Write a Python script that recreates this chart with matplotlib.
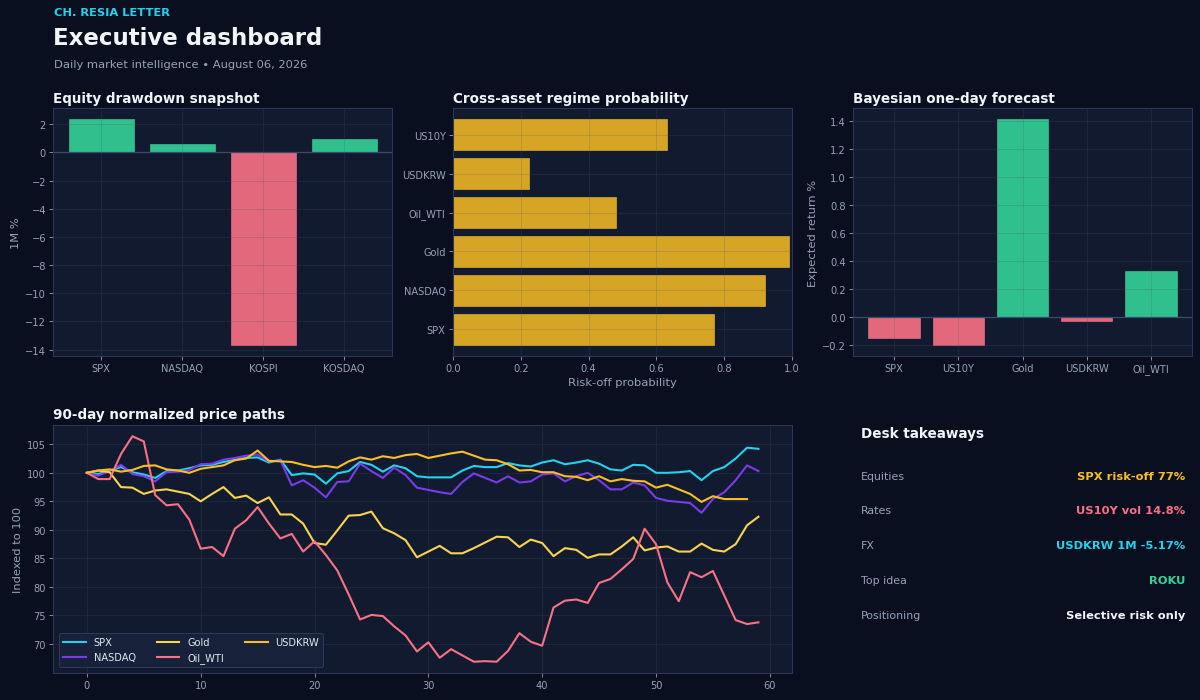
import matplotlib
matplotlib.use("Agg")
import matplotlib.pyplot as plt
import numpy as np

# ---------------- data ----------------
dd_assets = ["SPX", "NASDAQ", "KOSPI", "KOSDAQ"]
dd_values = [2.35, 0.60, -13.65, 0.95]

regime_assets = ["SPX", "NASDAQ", "Gold", "Oil_WTI", "USDKRW", "US10Y"]
regime_probs = [0.77, 0.92, 0.99, 0.48, 0.225, 0.63]

fc_assets = ["SPX", "US10Y", "Gold", "USDKRW", "Oil_WTI"]
fc_values = [-0.15, -0.195, 1.415, -0.022, 0.33]

spx = [100.0, 99.8, 100.4, 101.0, 100.1, 99.7, 99.1, 100.3, 100.4, 100.8,
       101.3, 101.4, 101.9, 102.3, 102.6, 102.7, 101.8, 102.3, 99.6, 99.9,
       99.7, 98.1, 99.9, 100.3, 101.9, 101.4, 100.2, 101.3, 100.8, 99.4,
       99.2, 99.2, 99.2, 100.4, 101.2, 101.0, 101.0, 101.7, 101.3, 101.1,
       101.8, 102.2, 101.5, 101.8, 102.2, 101.6, 100.6, 100.4, 101.4, 101.3,
       100.0, 100.0, 100.1, 100.3, 98.7, 100.3, 101.0, 102.5, 104.4, 104.2]
nasdaq = [100.0, 99.5, 100.3, 101.4, 99.8, 99.4, 98.5, 100.1, 100.2, 100.5,
          101.5, 101.6, 102.3, 102.6, 103.0, 103.2, 102.0, 102.2, 97.8, 98.7,
          97.4, 95.7, 98.4, 98.5, 101.6, 100.3, 99.1, 100.9, 99.6, 97.4,
          97.0, 96.6, 96.3, 98.4, 99.9, 99.1, 98.3, 99.4, 98.3, 98.5,
          99.7, 99.9, 98.5, 99.4, 100.0, 98.7, 97.1, 97.1, 98.3, 97.8,
          95.6, 95.1, 94.9, 94.7, 93.0, 95.4, 96.6, 98.7, 101.3, 100.3]
gold = [100.0, 100.4, 100.1, 97.5, 97.4, 96.3, 96.9, 97.1, 96.7, 96.3,
        95.0, 96.3, 97.5, 95.6, 96.0, 94.7, 95.7, 92.7, 92.7, 91.1,
        87.7, 87.4, 89.9, 92.5, 92.6, 93.2, 90.3, 89.4, 88.2, 85.2,
        86.2, 87.2, 85.9, 85.9, 86.8, 87.8, 88.8, 88.7, 87.0, 88.3,
        87.7, 85.4, 86.8, 86.5, 85.1, 85.7, 85.7, 87.1, 88.7, 86.4,
        86.9, 87.1, 86.2, 86.2, 87.6, 86.5, 86.2, 87.5, 90.8, 92.3]
oil = [100.0, 98.9, 98.9, 103.3, 106.4, 105.5, 96.1, 94.3, 94.5, 91.8,
       86.7, 87.0, 85.4, 90.2, 91.7, 94.0, 91.1, 88.5, 89.3, 86.2,
       88.0, 85.6, 82.9, 78.7, 74.3, 75.1, 74.9, 73.1, 71.5, 68.7,
       70.3, 67.6, 69.1, 68.0, 66.9, 67.0, 66.9, 68.8, 71.9, 70.4,
       69.7, 76.4, 77.6, 77.8, 77.2, 80.7, 81.4, 83.1, 84.9, 90.2,
       87.5, 80.8, 77.5, 82.6, 81.7, 82.8, 78.5, 74.2, 73.5, 73.8]
usdkrw = [100.0, 100.4, 100.6, 100.2, 100.5, 101.2, 101.3, 100.6, 100.4, 100.0,
          100.7, 101.0, 101.3, 102.2, 102.5, 103.9, 102.1, 102.0, 101.9, 101.4,
          101.0, 101.2, 100.9, 102.0, 102.7, 102.3, 102.9, 102.6, 103.1, 103.3,
          102.6, 103.0, 103.4, 103.7, 103.0, 102.3, 102.2, 101.5, 100.4, 100.5,
          100.1, 100.1, 99.4, 99.3, 98.7, 99.4, 98.5, 98.9, 98.6, 98.5,
          97.4, 97.9, 97.1, 96.3, 94.9, 95.9, 95.4, 95.4, 95.4]

series_names = ["SPX", "NASDAQ", "Gold", "Oil_WTI", "USDKRW"]
series_values = [spx, nasdaq, gold, oil, usdkrw]
series_colors = ["#22d3ee", "#7c3aed", "#fcd34d", "#fb7185", "#fbbf24"]

takeaway_labels = ["Equities", "Rates", "FX", "Top idea", "Positioning"]
takeaway_values = ["SPX risk-off 77%", "US10Y vol 14.8%", "USDKRW 1M -5.17%", "ROKU", "Selective risk only"]
takeaway_colors = ["#fbbf24", "#fb7185", "#22d3ee", "#34d399", "#f1f5f9"]

# ---------------- style ----------------
FIG_BG = "#0a0f1f"
AX_BG = "#111a2e"
SPINE = "#2c3857"
TICK = "#94a3b8"
GRID = "#475569"
GREEN = "#34d399"
RED = "#fb7185"
AMBER = "#fbbf24"
WHITE = "#f1f5f9"

plt.rcParams["font.family"] = ["DejaVu Sans"]

W, H = 1200, 701
DPI = 75
fig = plt.figure(figsize=(W / DPI, H / DPI), dpi=DPI, facecolor=FIG_BG)


def rect(l, t, r, b):
    return [l / W, 1 - b / H, (r - l) / W, (b - t) / H]


def style(ax):
    ax.set_facecolor(AX_BG)
    for s in ax.spines.values():
        s.set_color(SPINE)
        s.set_linewidth(1.0)
    ax.tick_params(colors=TICK, labelsize=9.5, length=3.5, width=0.8)
    for t in ax.get_xticklines() + ax.get_yticklines():
        t.set_color(SPINE)
    ax.grid(True, color=GRID, alpha=0.25, linewidth=0.8)
    ax.xaxis.label.set_color(TICK)
    ax.yaxis.label.set_color(TICK)


# header
fig.text(54 / W, 1 - 13.5 / H, "CH. RESIA LETTER", color="#22d3ee", fontsize=11,
         fontweight="bold", va="center", ha="left")
fig.text(53 / W, 1 - 38.5 / H, "Executive dashboard", color=WHITE, fontsize=22,
         fontweight="bold", va="center", ha="left")
fig.text(54 / W, 1 - 64.5 / H, "Daily market intelligence \u2022 August 06, 2026", color=TICK,
         fontsize=11, va="center", ha="left")

# ---- panel 1
ax1 = fig.add_axes(rect(53.3, 109, 392, 357))
style(ax1)
cols1 = [GREEN if v >= 0 else RED for v in dd_values]
ax1.bar(dd_assets, dd_values, color=cols1, alpha=0.9, width=0.8, edgecolor=cols1, linewidth=0.6)
ax1.axhline(0, color="#3b4a6e", linewidth=1.2)
ax1.set_ylabel("1M %", fontsize=11)
fig.text(53.3 / W, 1 - 98.7 / H, "Equity drawdown snapshot", color=WHITE, fontsize=13,
         fontweight="bold", va="center", ha="left")

# ---- panel 2
ax2 = fig.add_axes(rect(453, 109, 792, 357))
style(ax2)
ax2.barh(regime_assets, regime_probs, color=AMBER, alpha=0.85, height=0.8, edgecolor=AMBER, linewidth=0.6)
ax2.set_xlim(0, 1.0)
ax2.set_xlabel("Risk-off probability", fontsize=11)
fig.text(453 / W, 1 - 98.7 / H, "Cross-asset regime probability", color=WHITE, fontsize=13,
         fontweight="bold", va="center", ha="left")

# ---- panel 3
ax3 = fig.add_axes(rect(853, 109, 1192, 357))
style(ax3)
cols3 = [GREEN if v >= 0 else RED for v in fc_values]
ax3.bar(fc_assets, fc_values, color=cols3, alpha=0.9, width=0.8, edgecolor=cols3, linewidth=0.6)
ax3.axhline(0, color="#3b4a6e", linewidth=1.2)
ax3.set_ylabel("Expected return %", fontsize=11)
fig.text(853 / W, 1 - 98.7 / H, "Bayesian one-day forecast", color=WHITE, fontsize=13,
         fontweight="bold", va="center", ha="left")

# ---- panel 4 line chart
ax4 = fig.add_axes(rect(53.3, 426, 792, 674))
style(ax4)
for name, vals, c in zip(series_names, series_values, series_colors):
    ax4.plot(np.arange(len(vals)), vals, color=c, linewidth=2.0, label=name)
ax4.set_ylabel("Indexed to 100", fontsize=11)
ax4.set_xticks([0, 10, 20, 30, 40, 50, 60])
ax4.set_yticks([70, 75, 80, 85, 90, 95, 100, 105])
leg = ax4.legend(loc="lower left", ncol=3, fontsize=9.5, facecolor="#18213a",
                 edgecolor="#2e3a5c", framealpha=1.0, labelcolor="#e2e8f0",
                 borderaxespad=0.6, handlelength=2.3, columnspacing=2.1)
fig.text(53.3 / W, 1 - 415 / H, "90-day normalized price paths", color=WHITE, fontsize=13,
         fontweight="bold", va="center", ha="left")

# ---- takeaways
fig.text(860.7 / W, 1 - 434 / H, "Desk takeaways", color=WHITE, fontsize=13,
         fontweight="bold", va="center", ha="left")
row_y = [476.7, 511.5, 546.3, 581.1, 615.9]
for lab, val, col, yy in zip(takeaway_labels, takeaway_values, takeaway_colors, row_y):
    fig.text(860.7 / W, 1 - yy / H, lab, color=TICK, fontsize=10.5, va="center", ha="left")
    fig.text(1185 / W, 1 - yy / H, val, color=col, fontsize=11, fontweight="bold",
             va="center", ha="right")

fig.savefig("out.png", dpi=DPI, facecolor=FIG_BG)
